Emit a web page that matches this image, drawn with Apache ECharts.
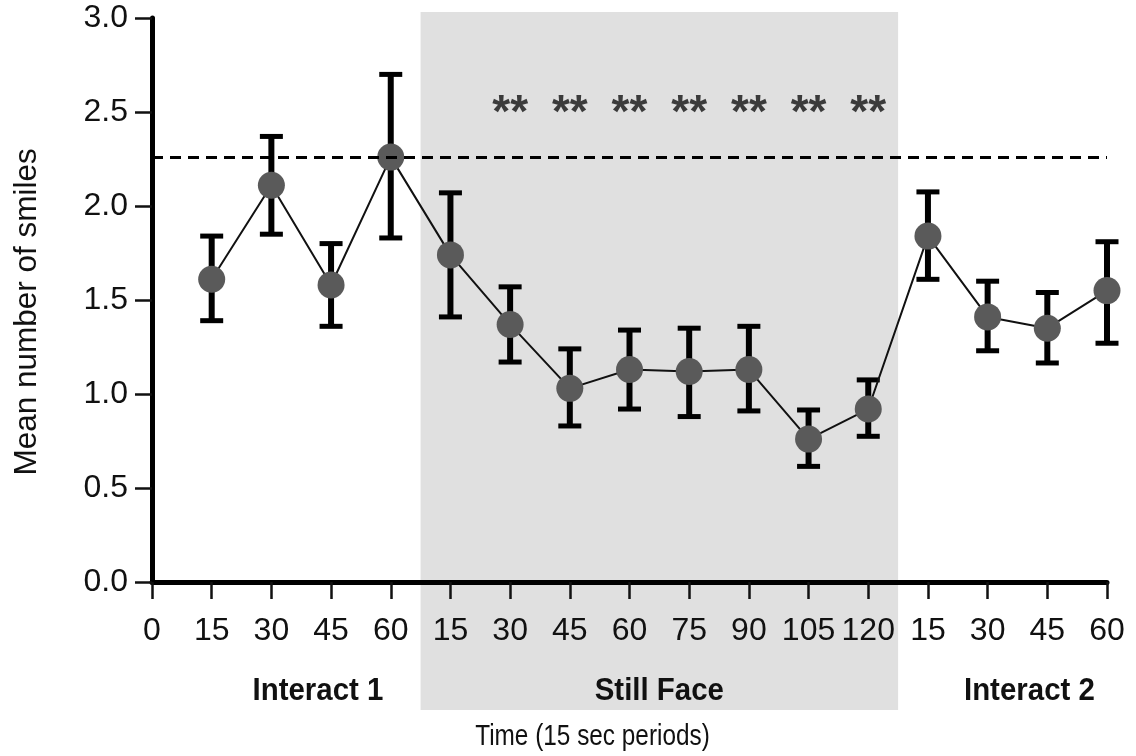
<!DOCTYPE html>
<html>
<head>
<meta charset="utf-8">
<script src="https://cdn.jsdelivr.net/npm/echarts@6/dist/echarts.min.js"></script>
<style>html,body{margin:0;padding:0;background:#fff}#c{width:1136px;height:756px}</style>
</head>
<body>
<div id="c"></div>
<script>
// ---- data ----
const xTickLabels = ['0','15','30','45','60','15','30','45','60','75','90','105','120','15','30','45','60'];
const pointIdx = [1,2,3,4,5,6,7,8,9,10,11,12,13,14,15,16];
const meanSmiles = [1.61,2.11,1.58,2.26,1.74,1.37,1.03,1.13,1.12,1.13,0.76,0.92,1.84,1.41,1.35,1.55];
const lowerBar  = [1.39,1.85,1.36,1.83,1.41,1.17,0.83,0.92,0.88,0.91,0.615,0.775,1.61,1.23,1.165,1.27];
const upperBar  = [1.84,2.37,1.80,2.70,2.07,1.57,1.24,1.34,1.35,1.36,0.915,1.075,2.075,1.60,1.54,1.81];
const refLevel = 2.26;
const sigIdx = [6,7,8,9,10,11,12];
const sigLevel = 2.54;
const yTicks = [0,0.5,1,1.5,2,2.5,3];
const phases = [
  {name:'Interact 1', center:2.78},
  {name:'Still Face', center:8.5},
  {name:'Interact 2', center:14.7}
];
const bandStart = 4.5, bandEnd = 12.5;

const FONT = '"Liberation Sans", Arial, Helvetica, sans-serif';
const chart = echarts.init(document.getElementById('c'), null, {renderer:'canvas'});

const option = {
  animation:false,
  backgroundColor:'#fff',
  grid:{left:152, right:29, top:18, bottom:174, containLabel:false},
  xAxis:{
    type:'value', min:0, max:16, interval:1,
    axisLine:{show:true, lineStyle:{color:'#000', width:5}},
    axisTick:{show:true, length:17, lineStyle:{color:'#111', width:2.5}},
    axisLabel:{show:true, showMinLabel:true, showMaxLabel:true, margin:33, fontSize:32, color:'#111', fontFamily:FONT,
      formatter:function(v){ return xTickLabels[Math.round(v)] ?? ''; }},
    splitLine:{show:false}
  },
  yAxis:{
    type:'value', min:yTicks[0], max:yTicks[yTicks.length-1], interval:0.5,
    axisLine:{show:true, lineStyle:{color:'#000', width:5}},
    axisTick:{show:true, length:17, lineStyle:{color:'#111', width:2.5}},
    axisLabel:{show:true, margin:24, fontSize:32, color:'#111', fontFamily:FONT,
      formatter:function(v){ return v.toFixed(1); }},
    splitLine:{show:false}
  },
  series:[
    {
      type:'custom', z:2, silent:true,
      data: pointIdx.map((x,i)=>[x, lowerBar[i], upperBar[i]]),
      renderItem:function(params, api){
        const x = api.value(0);
        const top = api.coord([x, api.value(2)]);
        const bot = api.coord([x, api.value(1)]);
        const hw = 11.5;
        return {type:'group', children:[
          {type:'line', shape:{x1:top[0], y1:top[1], x2:bot[0], y2:bot[1]}, style:{stroke:'#000', lineWidth:6}},
          {type:'line', shape:{x1:top[0]-hw, y1:top[1], x2:top[0]+hw, y2:top[1]}, style:{stroke:'#000', lineWidth:5}},
          {type:'line', shape:{x1:bot[0]-hw, y1:bot[1], x2:bot[0]+hw, y2:bot[1]}, style:{stroke:'#000', lineWidth:5}}
        ]};
      }
    },
    {
      type:'line', z:3, silent:true,
      data: pointIdx.map((x,i)=>[x, meanSmiles[i]]),
      symbol:'circle', symbolSize:27,
      itemStyle:{color:'#5a5a5a'},
      lineStyle:{color:'#111', width:2},
      markLine:{
        silent:true, symbol:['none','none'],
        label:{show:false},
        lineStyle:{type:[11,7], color:'#000', width:3},
        data:[{yAxis:refLevel}]
      }
    },
    {
      type:'scatter', z:4, silent:true,
      data: sigIdx.map(x=>[x, sigLevel]),
      symbolSize:1, itemStyle:{color:'rgba(0,0,0,0)'},
      label:{show:true, position:'inside', formatter:'**', fontSize:46, fontWeight:'bold', color:'#111', fontFamily:FONT, offset:[0,10]}
    }
  ]
};
chart.setOption(option);

function px(x,y){ return chart.convertToPixel({gridIndex:0},[x,y]); }
const b0 = px(bandStart, 0), b1 = px(bandEnd, 0);
const elements = [
  {type:'rect', z:-100, silent:true, shape:{x:b0[0], y:12, width:b1[0]-b0[0], height:698}, style:{fill:'#e0e0e0'}}
];
phases.forEach(p=>{
  const c = px(p.center, 0);
  elements.push({type:'text', z:10, silent:true, x:c[0], y:691, scaleX:0.92,
    style:{text:p.name, font:'bold 32px '+FONT, fill:'#111', textAlign:'center', textVerticalAlign:'middle'}});
});
const mid = px(7.38, 0);
elements.push({type:'text', z:10, silent:true, x:mid[0], y:737, scaleX:0.84,
  style:{text:'Time (15 sec periods)', font:'29px '+FONT, fill:'#111', textAlign:'center', textVerticalAlign:'middle'}});
const ym = px(0, 1.437);
elements.push({type:'text', z:10, silent:true, x:27, y:ym[1], rotation:Math.PI/2,
  style:{text:'Mean number of smiles', font:'31.5px '+FONT, fill:'#111', textAlign:'center', textVerticalAlign:'middle'}});
chart.setOption({graphic:{elements:elements}});
</script>
</body>
</html>
